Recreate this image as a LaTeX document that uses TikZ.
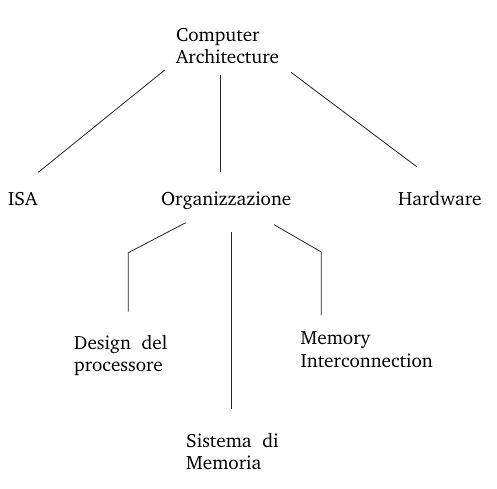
\documentclass[tikz,border=0pt]{standalone}
\usepackage[T1]{fontenc}
\usepackage{charter}
\begin{document}
\begin{tikzpicture}[x=1pt,y=-1pt,
  lbl/.style={anchor=base west,inner sep=0pt,align=left,font=\fontsize{19.2}{22.5}\selectfont},
  conn/.style={draw=black!85,line width=0.8pt}]
\useasboundingbox[fill=white] (0,0) rectangle (497,488);
% nodes (anchor = baseline of last line)
\node[lbl] (ca) at (176,63.5) {Computer\\Architecture};
\node[lbl] (isa) at (8,205.5) {ISA};
\node[lbl] (org) at (161,205.5) {Organizzazione};
\node[lbl] (hw) at (398,205.5) {Hardware};
\node[lbl] (dp) at (74,371.5) {Design\ \ del\\processore};
\node[lbl] (mi) at (300.5,367) {Memory\\Interconnection};
\node[lbl] (sm) at (186,469.5) {Sistema\ \ di\\Memoria};
% connector endpoints
\coordinate (ca1) at (164.7,70);   \coordinate (isa1) at (38.3,172.3);
\coordinate (ca2) at (220.5,75);   \coordinate (org1) at (220.5,172);
\coordinate (ca3) at (291,72.3);   \coordinate (hw1) at (416.7,166.7);
\coordinate (org2) at (185.7,222.7); \coordinate (dpk) at (128.3,252.7); \coordinate (dp1) at (128.3,311.7);
\coordinate (org3) at (231.3,232); \coordinate (sm1) at (231.3,408.5);
\coordinate (org4) at (274,224.7); \coordinate (mik) at (321.3,252); \coordinate (mi1) at (321.3,315.3);
% connectors
\draw[conn] (ca1) -- (isa1);
\draw[conn] (ca2) -- (org1);
\draw[conn] (ca3) -- (hw1);
\draw[conn] (org2) -- (dpk) -- (dp1);
\draw[conn] (org3) -- (sm1);
\draw[conn] (org4) -- (mik) -- (mi1);
\end{tikzpicture}
\end{document}
